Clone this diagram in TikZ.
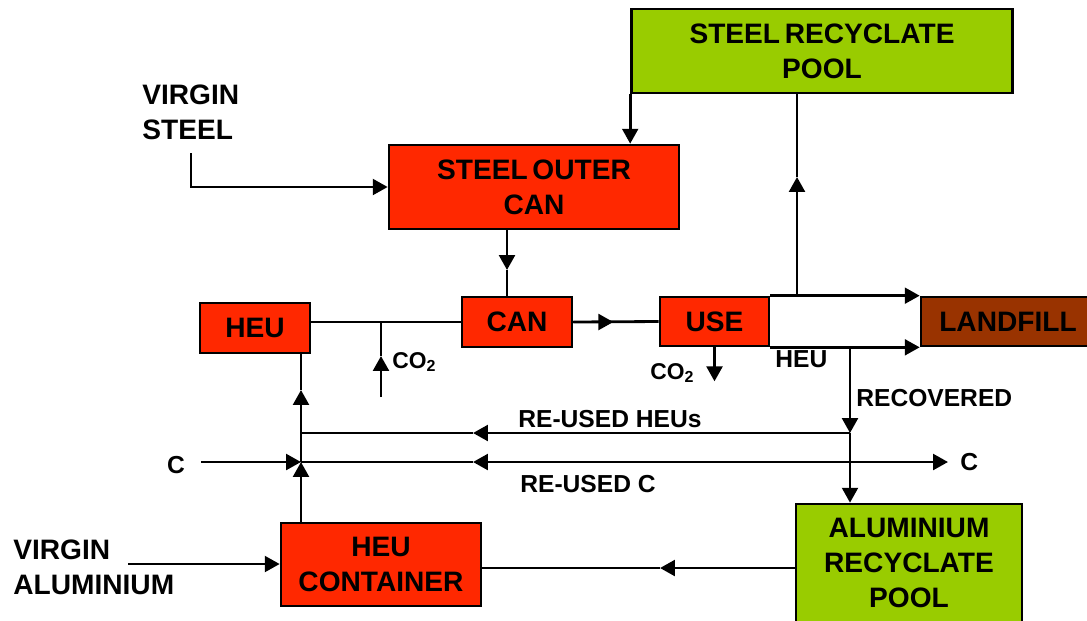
\documentclass[tikz,border=0pt]{standalone}
\usepackage{fontspec}
\setmainfont{Liberation Sans}
\usepackage{tikz}
\usetikzlibrary{arrows.meta}

\definecolor{canred}{RGB}{255,40,0}
\definecolor{poolgreen}{RGB}{153,204,0}
\definecolor{landbrown}{RGB}{153,51,0}

\tikzset{
	stage/.style={draw, line width=1.5pt, fill=canred, inner sep=0pt, align=center,
		font=\bfseries\fontsize{16}{19.8}\selectfont},
	pool/.style={stage, fill=poolgreen},
	biglbl/.style={inner sep=0pt, align=left, anchor=west,
		font=\bfseries\fontsize{16}{19.8}\selectfont},
	lbl/.style={inner sep=0pt, anchor=west, font=\bfseries\fontsize{14}{17}\selectfont},
	gaslbl/.style={inner sep=0pt, anchor=west, font=\bfseries\fontsize{13}{15}\selectfont},
	wire/.style={line width=1.6pt},
	flow/.style={wire, -{Triangle[length=8.5pt,width=9pt]}},
}

\begin{document}
\begin{tikzpicture}[x=0.02cm,y=-0.02cm]
		\useasboundingbox (0,0) rectangle (1087,620);
%		\draw[help lines,step=50] (0,0) grid (1087,620);
		\path (822,51) coordinate (steelpool_c);
		\path (534,187) coordinate (outercan_c);
		\path (255,328) coordinate (heu_c);
		\path (517,322) coordinate (can_c);
		\path (714.5,321.5) coordinate (use_c);
		\path (1008,321.5) coordinate (landfill_c);
		\path (381,564.5) coordinate (heucont_c);
		\path (909,563) coordinate (alpool_c);
		\path (191,153) coordinate (vsteel_end);
		\path (507,270) coordinate (can_tip);
		\path (381,397) coordinate (co2in_end);
		\path (381,356) coordinate (co2in_tip);
		\path (797,177) coordinate (steel_tip);
		\path (850,433) coordinate (heus_join);
		\path (850,462) coordinate (c_join);
		\path (301,433) coordinate (heus_hub);
		\path (301,462) coordinate (c_hub);
		\path (301,390) coordinate (heu_tip);
		\path (473,433) coordinate (heus_tip);
		\path (473,462) coordinate (c_tip);
		\path (201,462) coordinate (c_start);
		\path (948,462) coordinate (c_out);
		\path (128,564) coordinate (val_end);
		\path (660,568) coordinate (al_tip);

		% boxes
		\node[pool, minimum width=381*0.02cm, minimum height=84*0.02cm] (steelpool) at (steelpool_c)
			{STEEL\,RECYCLATE\\POOL};
		\node[stage, minimum width=290*0.02cm, minimum height=84*0.02cm] (outercan) at (outercan_c)
			{STEEL\,OUTER\\CAN};
		\node[stage, minimum width=110*0.02cm, minimum height=50*0.02cm] (heu) at (heu_c) {HEU};
		\node[stage, minimum width=110*0.02cm, minimum height=50*0.02cm] (can) at (can_c) {CAN};
		\node[stage, minimum width=109*0.02cm, minimum height=49*0.02cm] (use) at (use_c) {USE};
		\node[stage, fill=landbrown, minimum width=174*0.02cm, minimum height=49*0.02cm] (landfill) at (landfill_c)
			{LANDFILL};
		\node[stage, minimum width=200*0.02cm, minimum height=83*0.02cm] (heucont) at (heucont_c)
			{HEU\\CONTAINER};
		\node[pool, minimum width=226*0.02cm, minimum height=118*0.02cm] (alpool) at (alpool_c)
			{ALUMINIUM\\RECYCLATE\\POOL};

		% labels
		\node[biglbl] (vsteel) at (142,112.5) {VIRGIN\\STEEL};
		\node[biglbl] (valu) at (13,567.5) {VIRGIN\\ALUMINIUM};
		\node[gaslbl] (co2in) at (392,362) {CO\textsubscript{2}};
		\node[gaslbl] (co2out) at (650,373) {CO\textsubscript{2}};
		\node[lbl] (heulbl) at (775,359) {HEU};
		\node[lbl] (recov) at (856,398) {RECOVERED};
		\node[lbl] (reheus) at (518,419) {RE-USED HEUs};
		\node[lbl] (rec) at (520,484) {RE-USED C};
		\node[lbl, anchor=center] (cin) at (176,465) {C};
		\node[lbl] (cout) at (960,462) {C};

		% steel side
		\draw[flow] (steelpool.south west) -- (steelpool.south west |- outercan.north);
		\draw[flow] (vsteel_end) |- (outercan.west);
		\draw[flow] (outercan.south -| can_tip) -- (can_tip);
		\draw[wire] (can_tip) -- (can.north -| can_tip);

		% main line
		\draw[wire] (heu.east |- can.west) -- (can.west);
		\draw[flow] (co2in_end) -- (co2in_tip);
		\draw[wire] (co2in_tip) -- (co2in_end |- can.west);
		\draw[wire] (can.east) -- (use.west);
		\draw[flow] (can.east) -- +(40,0);
		\draw[flow] (use.south) -- +(0,34);
		\draw[flow] (use.north east) -- (use.north east -| landfill.west);
		\draw[flow] (use.south east) -- (use.south east -| landfill.west);
		\draw[flow] (steel_tip |- use.north) -- (steel_tip);
		\draw[wire] (steel_tip) -- (steel_tip |- steelpool.south);

		% recovery
		\draw[flow] (heus_join |- use.south) -- (heus_join);
		\draw[flow] (heus_join) -- (heus_join |- alpool.north);
		\draw[flow] (heus_join) -- (heus_tip);
		\draw[wire] (heus_tip) -- (heus_hub);
		\draw[flow] (c_join) -- (c_tip);
		\draw[wire] (c_tip) -- (c_hub);
		\draw[flow] (c_join) -- (c_out);
		\draw[flow] (c_start) -- (c_hub);

		% container up to HEU
		\draw[flow] (heucont.north -| c_hub) -- (c_hub);
		\draw[wire] (c_hub) -- (heus_hub);
		\draw[flow] (heus_hub) -- (heu_tip);
		\draw[wire] (heu_tip) -- (heu.south -| heu_tip);

		% aluminium
		\draw[flow] (val_end) -- (val_end -| heucont.west);
		\draw[flow] (alpool.west |- al_tip) -- (al_tip);
		\draw[wire] (al_tip) -- (al_tip -| heucont.east);
\end{tikzpicture}
\end{document}
